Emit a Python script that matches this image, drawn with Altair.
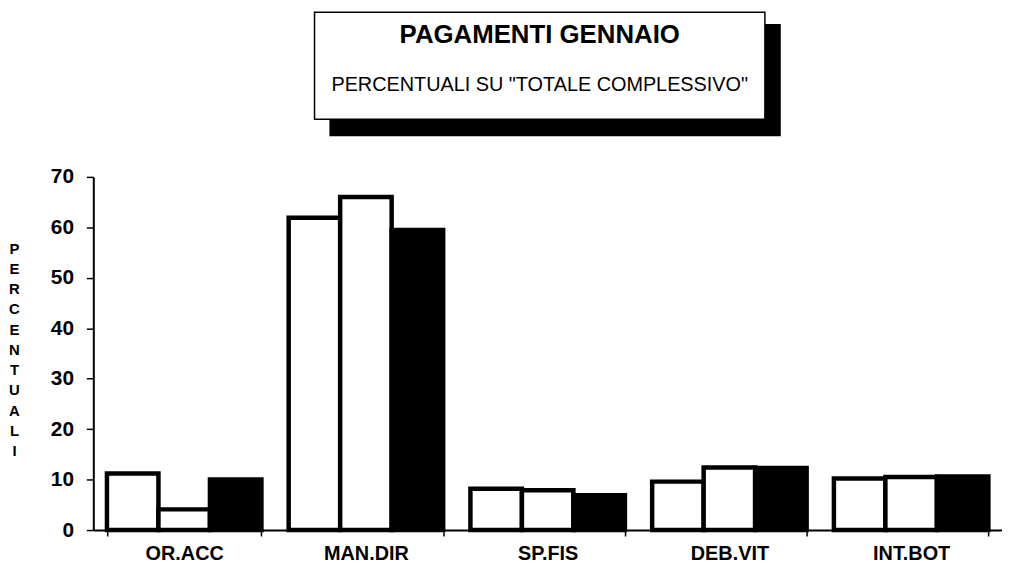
import altair as alt
import pandas as pd

categories = ["OR.ACC", "MAN.DIR", "SP.FIS", "DEB.VIT", "INT.BOT"]
series_names = ["Serie 1", "Serie 2", "Serie 3"]
serie1 = [11.2, 61.9, 8.2, 9.6, 10.2]
serie2 = [4.1, 66.0, 7.9, 12.4, 10.5]
serie3 = [10.0, 59.5, 6.9, 12.3, 10.6]
y_ticks = [0, 10, 20, 30, 40, 50, 60, 70]
title_text = "PAGAMENTI GENNAIO"
subtitle_text = 'PERCENTUALI SU "TOTALE COMPLESSIVO"'
y_title = "PERCENTUALI"

rows = []
for name, vals in zip(series_names, [serie1, serie2, serie3]):
    for c, v in zip(categories, vals):
        rows.append({"cat": c, "serie": name, "val": v})
df = pd.DataFrame(rows)

FONT = "Liberation Sans"

bars = alt.Chart(df).mark_bar(stroke="black", strokeWidth=4.5, clip=False).encode(
    x=alt.X("cat:N", sort=categories,
            scale=alt.Scale(paddingInner=0.15, paddingOuter=0.075),
            axis=alt.Axis(title=None, labelAngle=0, tickBand="extent",
                          labelFont=FONT, labelFontSize=20, labelFontWeight="bold",
                          labelColor="black", domainColor="black", domainWidth=2,
                          tickColor="black", tickWidth=1.5, tickSize=6,
                          labelPadding=8)),
    xOffset=alt.XOffset("serie:N", sort=series_names,
                        scale=alt.Scale(paddingInner=0, paddingOuter=0)),
    y=alt.Y("val:Q", scale=alt.Scale(domain=[0, 70], nice=False),
            axis=alt.Axis(values=y_ticks, grid=False, title=list(y_title),
                          titleAngle=0, titleFont=FONT, titleFontSize=15,
                          titleFontWeight="bold", titleColor="black",
                          titleLineHeight=20.4, titleAlign="center",
                          titleBaseline="top", titleX=-80, titleY=65,
                          labelFont=FONT, labelFontSize=21, labelFontWeight="bold",
                          labelColor="black", domainColor="black", domainWidth=2,
                          tickColor="black", tickWidth=1.5, tickSize=7,
                          labelPadding=13)),
    fill=alt.Fill("serie:N", sort=series_names, legend=None,
                  scale=alt.Scale(domain=series_names,
                                  range=["white", "white", "black"])),
)

deco = pd.DataFrame([{"t": title_text, "s": subtitle_text}])

shadow = alt.Chart(deco).mark_rect(fill="black", clip=False).encode(
    x=alt.value(238), x2=alt.value(693), y=alt.value(-154), y2=alt.value(-41))
box = alt.Chart(deco).mark_rect(fill="white", stroke="black", strokeWidth=1.5,
                                clip=False).encode(
    x=alt.value(223), x2=alt.value(677), y=alt.value(-166), y2=alt.value(-58))
t1 = alt.Chart(deco).mark_text(font=FONT, fontSize=26, fontWeight="bold",
                               color="black", align="center", baseline="middle",
                               clip=False).encode(
    x=alt.value(450), y=alt.value(-143), text="t:N")
t2 = alt.Chart(deco).mark_text(font=FONT, fontSize=20, fontWeight="normal",
                               color="black", align="center", baseline="middle",
                               clip=False).encode(
    x=alt.value(450), y=alt.value(-93), text="s:N")

chart = alt.layer(shadow, box, t1, t2, bars).properties(
    width=916, height=356,
    autosize=alt.AutoSizeParams(type="none"),
    padding={"left": 86, "top": 168, "right": 0, "bottom": 36},
    background="white",
).configure_view(stroke=None)

chart.save("out.html", embed_options={"renderer": "svg", "actions": False})
